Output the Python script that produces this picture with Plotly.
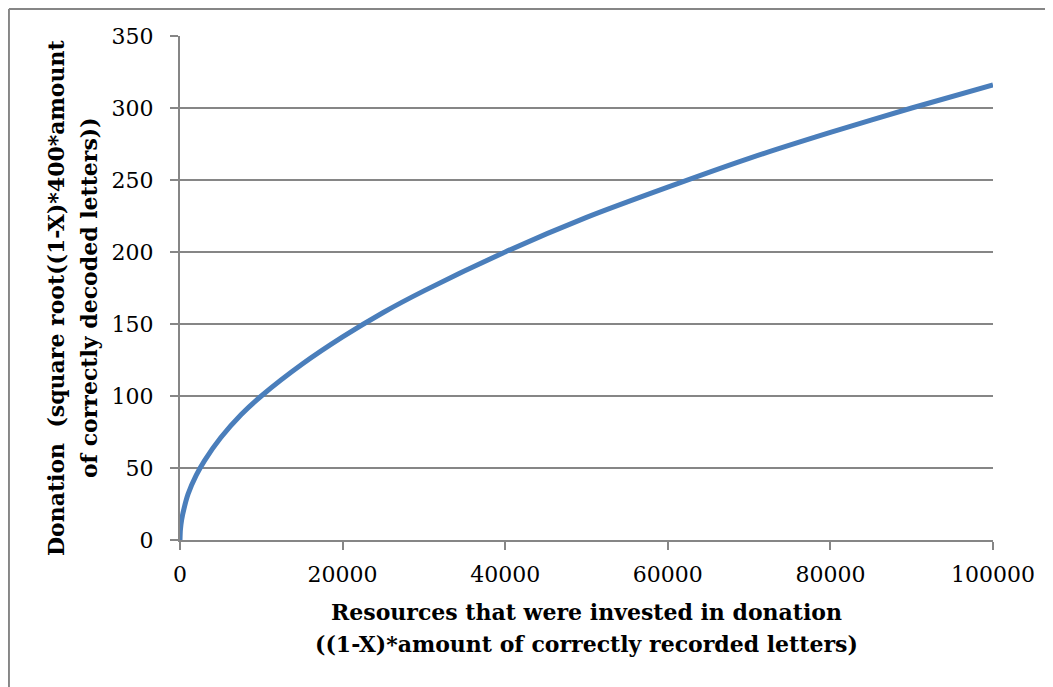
import plotly.graph_objects as go

resources = [0, 50, 200, 500, 1000, 2000, 3000, 5000, 7500, 10000, 15000, 20000, 25000,
             30000, 40000, 50000, 60000, 70000, 80000, 90000, 100000]
donation = [0, 7, 14, 22, 32, 45, 55, 71, 87, 100, 122, 141, 158,
            173, 200, 224, 245, 265, 283, 300, 316]

x_ticks = [0, 20000, 40000, 60000, 80000, 100000]
y_ticks = [0, 50, 100, 150, 200, 250, 300, 350]

x_title = ["Resources that were invested in donation",
           "((1-X)*amount of correctly recorded letters)"]
y_title = ["Donation  (square root((1-X)*400*amount",
           "of correctly decoded letters))"]

FONT = "DejaVu Serif"
GRAY = "#868686"

fig = go.Figure()
fig.add_trace(go.Scatter(x=resources, y=donation, mode="lines",
                         line=dict(color="#4A7EBB", width=5, shape="spline", smoothing=0.6),
                         showlegend=False, hoverinfo="skip"))

annotations = []
for txt, yp in zip(x_title, [-0.1429, -0.2063]):
    annotations.append(dict(text="<b>" + txt + "</b>", xref="paper", yref="paper",
                            x=0.5, y=yp, xanchor="center", yanchor="middle", showarrow=False,
                            font=dict(family=FONT, size=22, color="black")))
for txt, xp in zip(y_title, [-0.1525, -0.1119]):
    annotations.append(dict(text="<b>" + txt + "</b>", xref="paper", yref="paper",
                            x=xp, y=0.48, xanchor="center", yanchor="middle", showarrow=False,
                            textangle=-90, font=dict(family=FONT, size=22, color="black")))

fig.update_layout(
    width=1053, height=687,
    margin=dict(l=172, r=68, t=28, b=155),
    paper_bgcolor="white", plot_bgcolor="white",
    font=dict(family=FONT, size=22, color="black"),
    xaxis=dict(range=[0, 100000], tickvals=x_ticks, ticktext=[str(v) for v in x_ticks],
               showgrid=False, zeroline=False, showline=True, linecolor=GRAY, linewidth=2,
               ticks="outside", ticklen=8, tickcolor=GRAY, tickwidth=2,
               ticklabelstandoff=6,
               tickfont=dict(family=FONT, size=22, color="black")),
    yaxis=dict(range=[0, 350], tickvals=y_ticks, ticktext=[str(v) for v in y_ticks],
               showgrid=True, gridcolor=GRAY, gridwidth=2, zeroline=False,
               showline=True, linecolor=GRAY, linewidth=2,
               ticks="outside", ticklen=8, tickcolor=GRAY, tickwidth=2,
               ticklabelstandoff=12,
               tickfont=dict(family=FONT, size=22, color="black")),
    annotations=annotations,
    shapes=[
        dict(type="line", xref="paper", yref="paper", x0=-0.2104, x1=-0.2104, y0=1.0536, y1=-0.35,
             line=dict(color=GRAY, width=2)),
        dict(type="line", xref="paper", yref="paper", x0=-0.2104, x1=1.1, y0=1.0536, y1=1.0536,
             line=dict(color=GRAY, width=2)),
    ],
)

fig.write_html("out.html")
